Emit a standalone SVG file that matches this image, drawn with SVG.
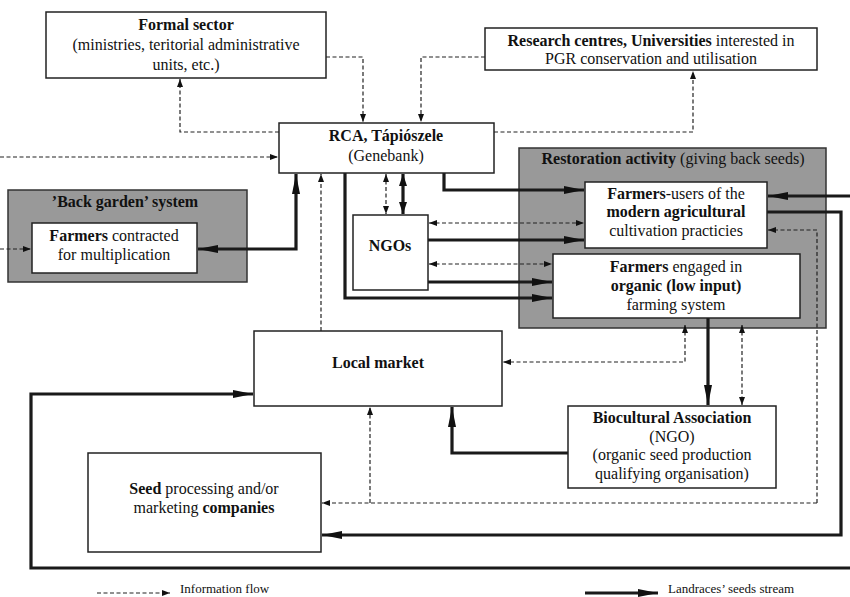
<svg xmlns="http://www.w3.org/2000/svg" width="850" height="597" viewBox="0 0 850 597">
<defs>
<style>
text{font-family:"Liberation Serif","Times New Roman",serif;font-size:16px;fill:#111;text-anchor:middle}
.b{font-weight:bold}
.box{fill:#fff;stroke:#222;stroke-width:1.5}
.gray{fill:#999;stroke:#333;stroke-width:1.5}
.info{fill:none;stroke:#222;stroke-width:1.2;stroke-dasharray:4 2.5}
.seed{fill:none;stroke:#1a1a1a;stroke-width:3.2}
</style>
<marker id="ah" markerUnits="userSpaceOnUse" markerWidth="22" markerHeight="10" refX="20" refY="5" orient="auto-start-reverse"><path d="M0,1 L20,5 L0,9 z" fill="#111"/></marker>
<marker id="ahs" markerUnits="userSpaceOnUse" markerWidth="14" markerHeight="10" refX="12" refY="5" orient="auto-start-reverse"><path d="M0,1 L12,5 L0,9 z" fill="#111"/></marker>
<marker id="ai" markerUnits="userSpaceOnUse" markerWidth="9" markerHeight="7" refX="8" refY="3.5" orient="auto-start-reverse"><path d="M0,0.5 L8,3.5 L0,6.5 z" fill="#111"/></marker>
</defs>
<rect width="850" height="597" fill="#fff"/>

<g id="restoration">
<rect class="gray" x="519" y="148" width="307" height="180"/>
<text x="673" y="164"><tspan class="b">Restoration activity</tspan> (giving back seeds)</text>
</g>
<g id="backgarden">
<rect class="gray" x="8" y="190" width="239" height="92"/>
<text x="125" y="207" class="b">’Back garden’ system</text>
</g>

<g id="connectors">
<path class="info" marker-end="url(#ai)" d="M326,57 H363 V122"/>
<path class="info" marker-end="url(#ai)" d="M485,57 H421 V122"/>
<path class="info" marker-end="url(#ai)" d="M279,132 H180 V79"/>
<path class="info" marker-end="url(#ai)" d="M494,132 H693 V71"/>
<path class="info" marker-end="url(#ai)" d="M0,157 H278"/>
<path class="info" marker-end="url(#ai)" d="M0,249 H31"/>
<path class="info" marker-end="url(#ai)" d="M321,331 V174"/>
<path class="info" marker-start="url(#ai)" marker-end="url(#ai)" d="M386,174 V214"/>
<path class="info" marker-start="url(#ai)" marker-end="url(#ai)" d="M429,223 H584"/>
<path class="info" marker-start="url(#ai)" marker-end="url(#ai)" d="M429,264 H552"/>
<path class="info" marker-start="url(#ai)" marker-end="url(#ai)" d="M685,325 V362 H503"/>
<path class="info" marker-start="url(#ai)" marker-end="url(#ai)" d="M742,325 V405"/>
<path class="info" marker-end="url(#ai)" d="M817,503 V230 H768"/>
<path class="info" marker-end="url(#ai)" d="M817,503 H322"/>
<path class="info" marker-end="url(#ai)" d="M370,503 V407"/>
<path class="seed" marker-start="url(#ah)" marker-end="url(#ah)" d="M198,249 H296 V174"/>
<path class="seed" marker-start="url(#ahs)" marker-end="url(#ahs)" d="M403,174 V214"/>
<path class="seed" marker-end="url(#ah)" d="M444,173 V190 H584"/>
<path class="seed" marker-end="url(#ah)" d="M428,240 H584"/>
<path class="seed" marker-end="url(#ah)" d="M428,282 H552"/>
<path class="seed" marker-end="url(#ah)" d="M345,173 V298 H552"/>
<path class="seed" marker-end="url(#ah)" d="M850,196 H768"/>
<path class="seed" marker-end="url(#ah)" d="M767,212 H841 V535 H322"/>
<path class="seed" marker-end="url(#ah)" d="M708,318 V405"/>
<path class="seed" marker-end="url(#ah)" d="M568,453 H452 V407"/>
<path class="seed" marker-end="url(#ah)" d="M850,568 H31 V394 H253"/>
<path class="info" marker-end="url(#ai)" d="M97,593 H170"/>
<path class="seed" marker-end="url(#ah)" d="M585,593 H658"/>
</g>

<g id="formal">
<rect class="box" x="46" y="12" width="280" height="66"/>
<text x="186" y="30" class="b">Formal sector</text>
<text x="186" y="50">(ministries, teritorial administrative</text>
<text x="186" y="70">units, etc.)</text>
</g>
<g id="research">
<rect class="box" x="485" y="28" width="332" height="42"/>
<text x="651" y="46"><tspan class="b">Research centres, Universities</tspan> interested in</text>
<text x="651" y="64">PGR conservation and utilisation</text>
</g>
<g id="rca">
<rect class="box" x="279" y="123" width="215" height="50"/>
<text x="386" y="141" class="b">RCA, Tápiószele</text>
<text x="386" y="161">(Genebank)</text>
</g>
<g id="farmers-contracted">
<rect class="box" x="32" y="223" width="165" height="50"/>
<text x="114" y="241"><tspan class="b">Farmers</tspan> contracted</text>
<text x="114" y="260">for multiplication</text>
</g>
<g id="ngos">
<rect class="box" x="353" y="215" width="75" height="75"/>
<text x="390" y="251" class="b">NGOs</text>
</g>
<g id="farmers-modern">
<rect class="box" x="585" y="182" width="182" height="66"/>
<text x="676" y="199"><tspan class="b">Farmers</tspan>-users of the</text>
<text x="676" y="217" class="b">modern agricultural</text>
<text x="676" y="236">cultivation practicies</text>
</g>
<g id="farmers-organic">
<rect class="box" x="553" y="254" width="247" height="64"/>
<text x="676" y="272"><tspan class="b">Farmers</tspan> engaged in</text>
<text x="676" y="291" class="b">organic (low input)</text>
<text x="676" y="310">farming system</text>
</g>
<g id="local-market">
<rect class="box" x="254" y="331" width="248" height="75"/>
<text x="378" y="368" class="b">Local market</text>
</g>
<g id="biocultural">
<rect class="box" x="568" y="406" width="208" height="82"/>
<text x="672" y="423" class="b">Biocultural Association</text>
<text x="672" y="442">(NGO)</text>
<text x="672" y="460">(organic seed production</text>
<text x="672" y="479">qualifying organisation)</text>
</g>
<g id="seed-companies">
<rect class="box" x="88" y="453" width="233" height="99"/>
<text x="204" y="494"><tspan class="b">Seed</tspan> processing and/or</text>
<text x="204" y="513">marketing <tspan class="b">companies</tspan></text>
</g>
<g id="legend">
<text x="180" y="593" style="text-anchor:start;font-size:13px">Information flow</text>
<text x="668" y="593" style="text-anchor:start;font-size:13px">Landraces’ seeds stream</text>
</g>
</svg>
